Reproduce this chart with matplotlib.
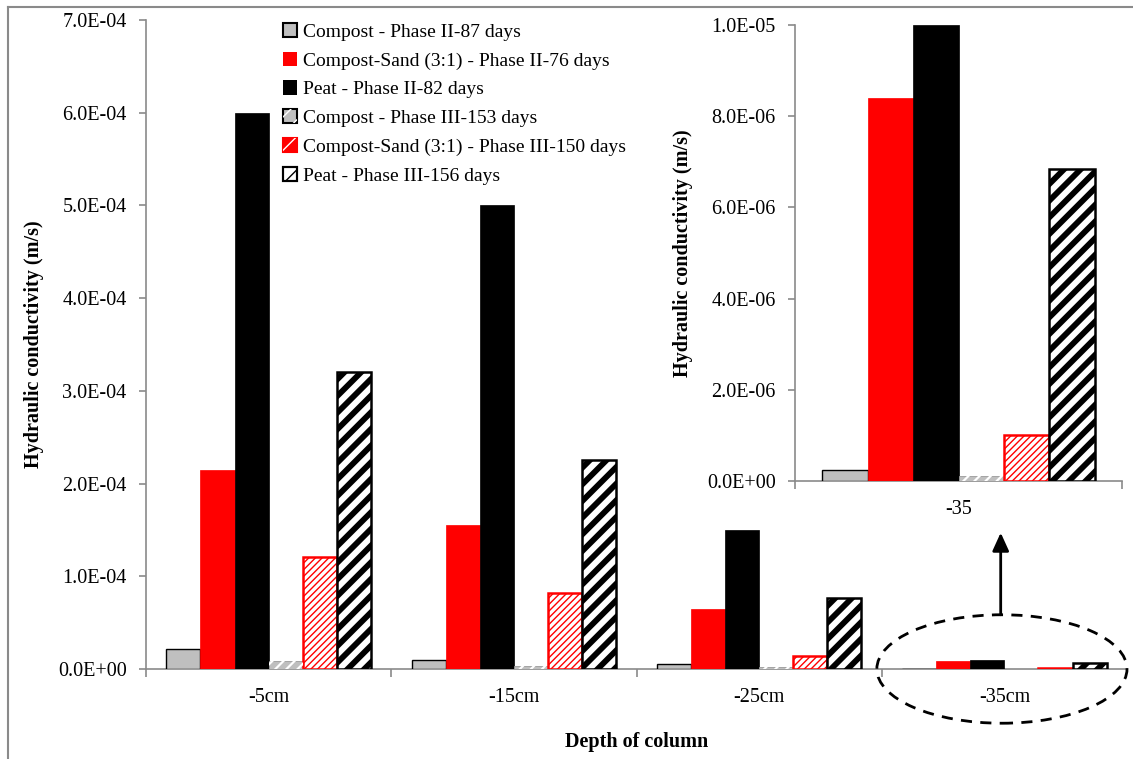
import matplotlib
matplotlib.use("Agg")
import matplotlib.pyplot as plt
from matplotlib.patches import Ellipse, Patch
from matplotlib.lines import Line2D
from matplotlib.legend_handler import HandlerTuple
import numpy as np

plt.rcParams['font.family'] = ['Liberation Serif', 'DejaVu Serif']

# ---- data -------------------------------------------------------------
depths = ["-5cm", "-15cm", "-25cm", "-35cm"]
series_names = [
    "Compost - Phase II-87 days",
    "Compost-Sand (3:1) - Phase II-76 days",
    "Peat - Phase II-82 days",
    "Compost - Phase III-153 days",
    "Compost-Sand (3:1) - Phase III-150 days",
    "Peat - Phase III-156 days",
]
compost_p2 = [2.2e-5, 1.0e-5, 5.0e-6, 2.5e-7]
sand_p2 = [2.15e-4, 1.55e-4, 6.5e-5, 8.4e-6]
peat_p2 = [6.0e-4, 5.0e-4, 1.5e-4, 1.0e-5]
compost_p3 = [9.0e-6, 3.0e-6, 2.0e-6, 1.0e-7]
sand_p3 = [1.21e-4, 8.2e-5, 1.4e-5, 1.0e-6]
peat_p3 = [3.2e-4, 2.25e-4, 7.7e-5, 6.85e-6]

inset_label = "-35"
main_ticks = [0, 1e-4, 2e-4, 3e-4, 4e-4, 5e-4, 6e-4, 7e-4]
main_ticklabels = ["0.0E+00", "1.0E-04", "2.0E-04", "3.0E-04",
                   "4.0E-04", "5.0E-04", "6.0E-04", "7.0E-04"]
inset_ticks = [0, 2e-6, 4e-6, 6e-6, 8e-6, 1e-5]
inset_ticklabels = ["0.0E+00", "2.0E-06", "4.0E-06", "6.0E-06", "8.0E-06", "1.0E-05"]

# ---- styling ----------------------------------------------------------
AXIS_GRAY = "#8a8a8a"
FS = 14.5
LEG_FS = 14
LABEL_FS = 14.5
BAR_W = 0.139
GRAY = "#bfbfbf"
RED = "#ff0000"


def set_hatch_lw(patches, lw):
    for p in patches:
        if hasattr(p, "set_hatch_linewidth"):
            p.set_hatch_linewidth(lw)


def draw_group(ax, x, values):
    """Draw the six bars of each group."""
    (c2, s2, p2, c3, s3, p3) = values
    offs = (np.arange(6) - 2.5) * BAR_W
    ax.bar(x + offs[0], c2, BAR_W, color=GRAY, edgecolor="black",
           linewidth=1.0, zorder=3)
    ax.bar(x + offs[1], s2, BAR_W, color=RED, edgecolor=RED,
           linewidth=0.5, zorder=3)
    ax.bar(x + offs[2], p2, BAR_W, color="black", edgecolor="black",
           linewidth=0.5, zorder=3)
    ax.bar(x + offs[3], c3, BAR_W, color=GRAY, edgecolor="#9a9a9a",
           linewidth=0.6, zorder=3)
    with plt.rc_context({"hatch.linewidth": 1.6}):
        over = ax.bar(x + offs[3], c3, BAR_W, color="none", edgecolor="white",
                      hatch="///", linewidth=0, zorder=4)
    set_hatch_lw(over.patches, 1.6)
    with plt.rc_context({"hatch.linewidth": 1.0}):
        red_h = ax.bar(x + offs[4], s3, BAR_W, color="white", edgecolor=RED,
                       hatch="/////", linewidth=1.8, zorder=3)
    set_hatch_lw(red_h.patches, 1.0)
    with plt.rc_context({"hatch.linewidth": 4.2}):
        blk_h = ax.bar(x + offs[5], p3, BAR_W, color="white",
                       edgecolor="black", hatch="//", linewidth=1.8, zorder=3)
    set_hatch_lw(blk_h.patches, 4.2)


def style_axes(ax):
    for side in ("top", "right"):
        ax.spines[side].set_visible(False)
    for side in ("left", "bottom"):
        ax.spines[side].set_color(AXIS_GRAY)
        ax.spines[side].set_linewidth(1.2)
    ax.tick_params(axis="y", direction="out", length=5, width=1.2,
                   color=AXIS_GRAY, labelsize=FS, pad=9)
    ax.tick_params(axis="x", which="major", length=0, labelsize=FS, pad=14)
    ax.tick_params(axis="x", which="minor", direction="out", length=6,
                   width=1.2, color=AXIS_GRAY)


fig = plt.figure(figsize=(11.33, 7.59), dpi=100)

# ---- main chart -------------------------------------------------------
ax = fig.add_axes([146 / 1133, 90 / 759, 981 / 1133, 649 / 759])
x = np.arange(len(depths))
draw_group(ax, x, (compost_p2, sand_p2, peat_p2, compost_p3, sand_p3, peat_p3))
ax.set_xlim(-0.5, len(depths) - 0.5)
ax.set_ylim(0, 7e-4)
ax.set_yticks(main_ticks)
ax.set_yticklabels(main_ticklabels)
ax.set_xticks(x)
ax.set_xticklabels(depths)
ax.set_xticks(np.arange(len(depths)) - 0.5, minor=True)
style_axes(ax)
ax.set_ylabel("Hydraulic conductivity (m/s)", fontsize=LABEL_FS,
              fontweight="bold", labelpad=10)
ax.set_xlabel("Depth of column", fontsize=LABEL_FS, fontweight="bold",
              labelpad=18)

# dashed ellipse around the deepest group with an arrow to the zoomed view
ell = Ellipse((2.99, 0.0), 1.02, 1.17e-4, fill=False, edgecolor="black",
              linestyle=(0, (4, 3)), linewidth=2.0, clip_on=False, zorder=6)
ax.add_patch(ell)
ax.annotate("", xy=(2.985, 1.47e-4), xytext=(2.985, 0.585e-4),
            arrowprops=dict(arrowstyle="-|>,head_length=1.1,head_width=0.5",
                            color="black", lw=2.0, shrinkA=0, shrinkB=0),
            annotation_clip=False, zorder=6)

# legend handles mirror the bar styles
with plt.rc_context({"hatch.linewidth": 1.6}):
    leg_c3_over = Patch(facecolor="none", edgecolor="white", hatch="//",
                        linewidth=0)
    leg_s3_over = Patch(facecolor="none", edgecolor="white", hatch="//",
                        linewidth=0)
    leg_p3_over = Patch(facecolor="none", edgecolor="black", hatch="//",
                        linewidth=1.5)
set_hatch_lw([leg_c3_over, leg_s3_over, leg_p3_over], 1.6)
handles = [
    Patch(facecolor=GRAY, edgecolor="black", linewidth=1.5),
    Patch(facecolor=RED, edgecolor=RED, linewidth=0),
    Patch(facecolor="black", edgecolor="black", linewidth=0),
    (Patch(facecolor=GRAY, edgecolor="black", linewidth=1.5), leg_c3_over),
    (Patch(facecolor=RED, edgecolor=RED, linewidth=1.5), leg_s3_over),
    (Patch(facecolor="white", edgecolor="black", linewidth=1.5), leg_p3_over),
]
leg = ax.legend(handles, series_names, loc="upper left",
                bbox_to_anchor=(275 / 1133, 1 - 15 / 759),
                bbox_transform=fig.transFigure, frameon=False,
                fontsize=LEG_FS, handlelength=0.75, handleheight=0.75,
                handletextpad=0.3, labelspacing=0.56, borderaxespad=0,
                handler_map={tuple: HandlerTuple(ndivide=1, pad=0)})

# ---- inset: -35 cm on its own scale -----------------------------------
axi = fig.add_axes([795 / 1133, 278 / 759, 327 / 1133, 456 / 759])
axi.set_facecolor("white")
draw_group(axi, np.array([0.0]),
           ([compost_p2[-1]], [sand_p2[-1]], [peat_p2[-1]],
            [compost_p3[-1]], [sand_p3[-1]], [peat_p3[-1]]))
axi.set_xlim(-0.5, 0.5)
axi.set_ylim(0, 1e-5)
axi.set_yticks(inset_ticks)
axi.set_yticklabels(inset_ticklabels)
axi.set_xticks([0])
axi.set_xticklabels([inset_label])
axi.set_xticks([-0.5, 0.5], minor=True)
style_axes(axi)
axi.set_ylabel("Hydraulic conductivity (m/s)", fontsize=LABEL_FS,
               fontweight="bold", labelpad=10)

# thin frame along the left and top of the figure
fig.add_artist(Line2D([8 / 1133, 8 / 1133], [0, 1 - 7 / 759],
                      transform=fig.transFigure, color=AXIS_GRAY, lw=1.5))
fig.add_artist(Line2D([8 / 1133, 1], [1 - 7 / 759, 1 - 7 / 759],
                      transform=fig.transFigure, color=AXIS_GRAY, lw=1.5))

fig.savefig("out.png", dpi=100)
